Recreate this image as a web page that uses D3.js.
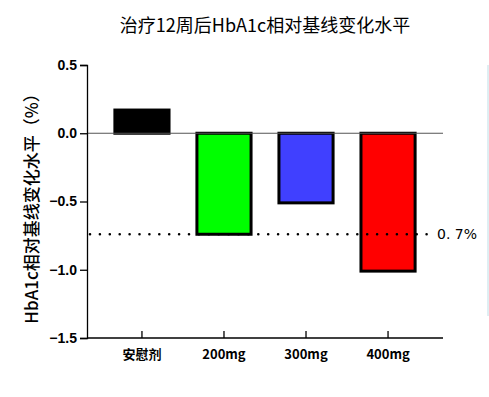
<!DOCTYPE html>
<html>
<head>
<meta charset="utf-8">
<script src="https://cdn.jsdelivr.net/npm/d3@7"></script>
<style>
  body { margin: 0; background: #fff; }
  svg { display: block; }
</style>
</head>
<body>
<div class="chart-container"></div>
<script>
// Data
const groups = ["安慰剂", "200mg", "300mg", "400mg"];
const changes = [0.17, -0.74, -0.51, -1.01];
const barColors = ["#000000", "#00ff00", "#4040ff", "#ff0000"];
const yTicks = [0.5, 0.0, -0.5, -1.0, -1.5];
const refValue = -0.74;
const refLabel = "0. 7%";

const width = 489, height = 397;
const svg = d3.select(".chart-container").append("svg")
  .attr("width", width).attr("height", height);

const margin = { top: 65, bottom: 59, left: 87, right: 46 };

// Scales
const x = d3.scaleBand()
  .domain(groups)
  .range([margin.left, width - margin.right])
  .paddingInner(0.34)
  .paddingOuter(0.34);

const y = d3.scaleLinear()
  .domain([-1.5, 0.5])
  .range([height - margin.bottom, margin.top]);

const cjk = "'Noto Sans CJK SC', 'Noto Sans', sans-serif";

// Title
svg.append("text")
  .attr("x", 265).attr("y", 32)
  .attr("text-anchor", "middle")
  .style("font-family", cjk)
  .style("font-size", "18px")
  .text("治疗12周后HbA1c相对基线变化水平");

// Bars
svg.append("g").selectAll("rect")
  .data(changes)
  .enter().append("rect")
  .attr("x", (d, i) => x(groups[i]))
  .attr("width", x.bandwidth())
  .attr("y", d => y(Math.max(0, d)))
  .attr("height", d => Math.abs(y(d) - y(0)))
  .attr("fill", (d, i) => barColors[i])
  .attr("stroke", "#000")
  .attr("stroke-width", 3);

// Zero line
svg.append("line")
  .attr("x1", margin.left).attr("x2", width - margin.right)
  .attr("y1", y(0)).attr("y2", y(0))
  .attr("stroke", "#555").attr("stroke-width", 1.2);

// Reference dotted line
svg.append("line")
  .attr("x1", margin.left + 3).attr("x2", 430)
  .attr("y1", y(refValue)).attr("y2", y(refValue))
  .attr("stroke", "#000")
  .attr("stroke-width", 2.6)
  .attr("stroke-linecap", "round")
  .attr("stroke-dasharray", "0 9.9");

svg.append("text")
  .attr("x", 437).attr("y", y(refValue))
  .attr("dy", "0.36em")
  .style("font-family", "'DejaVu Sans', sans-serif")
  .style("font-size", "14px")
  .text(refLabel);

// Y axis
const yAxis = svg.append("g")
  .attr("transform", `translate(${margin.left},0)`)
  .call(d3.axisLeft(y).tickValues(yTicks).tickFormat(d3.format(".1f")).tickSize(7).tickPadding(3));
yAxis.select(".domain").attr("stroke-width", 1.3);
yAxis.selectAll(".tick line").attr("stroke-width", 1.3);
yAxis.selectAll("text")
  .style("font-family", "'Liberation Sans', Arial, sans-serif")
  .style("font-weight", "bold")
  .style("font-size", "14px");

// X axis
const xAxis = svg.append("g")
  .attr("transform", `translate(0,${height - margin.bottom})`)
  .call(d3.axisBottom(x).tickSize(-7).tickPadding(6).tickSizeOuter(0));
xAxis.select(".domain").attr("d", `M${margin.left},0H${width - margin.right}`).attr("stroke-width", 1.3);
xAxis.selectAll(".tick line").attr("y1", 0).attr("y2", -7).attr("stroke-width", 1.3);
xAxis.selectAll("text")
  .attr("y", 12)
  .style("font-family", cjk)
  .style("font-weight", "bold")
  .style("font-size", "13px");

// Y label
svg.append("text")
  .attr("transform", `translate(38,${(y(0.5) + y(-1.5)) / 2 + 3}) rotate(-90)`)
  .attr("text-anchor", "middle")
  .style("font-family", cjk)
  .style("font-weight", "500")
  .style("font-size", "17px")
  .text("HbA1c相对基线变化水平（%）");

// faint edge line at right
svg.append("line")
  .attr("x1", 488).attr("x2", 488)
  .attr("y1", y(0.5)).attr("y2", 316)
  .attr("stroke", "#bfdde6").attr("stroke-width", 1);
</script>
</body>
</html>
